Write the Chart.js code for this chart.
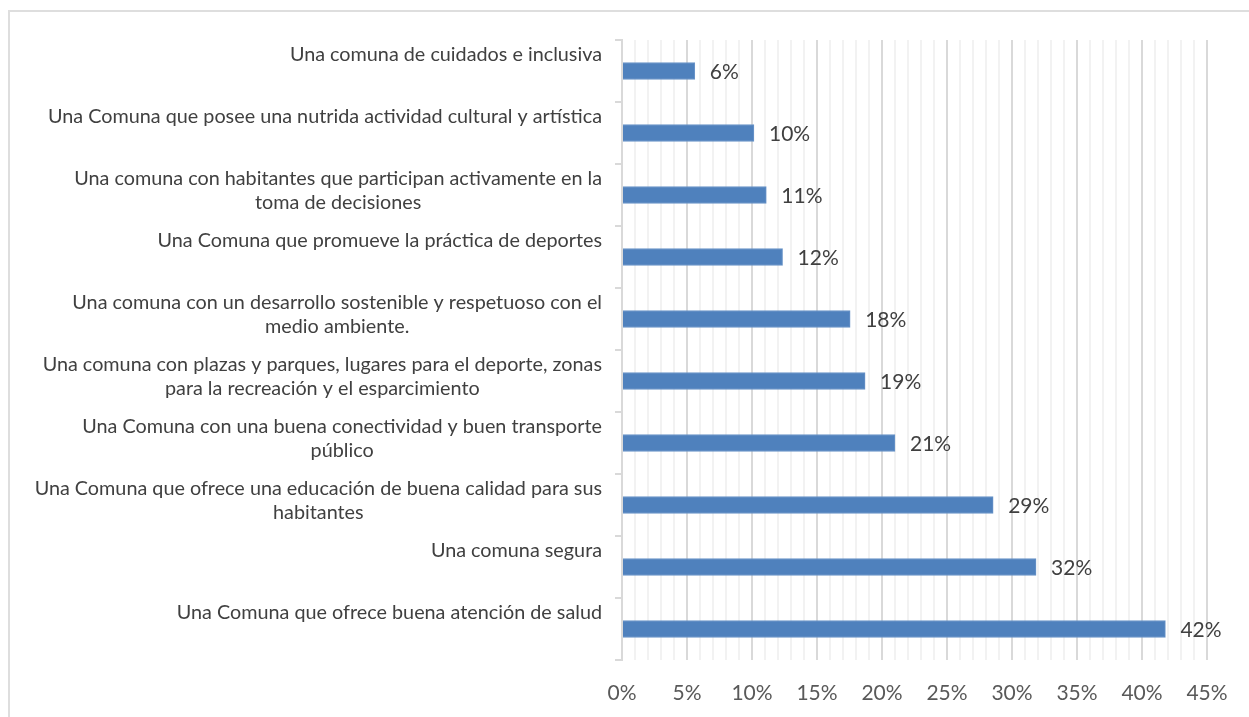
<!DOCTYPE html>
<html>
<head>
<meta charset="utf-8">
<script src="https://cdn.jsdelivr.net/npm/chart.js@4"></script>
<style>
  html, body { margin: 0; padding: 0; background: #fff; overflow: hidden; }
  #frame { position: absolute; left: 8px; top: 10px; width: 1260px; height: 720px; border: 2px solid #dedede; }
  #myChart { position: absolute; left: 0; top: 0; }
</style>
</head>
<body>
<div id="frame"></div>
<canvas id="myChart" width="1249" height="717"></canvas>
<script>
/* DATA */
const categories = [
    'Una comuna de cuidados e inclusiva',
    'Una Comuna que posee una nutrida actividad cultural y artística',
    ['Una comuna con habitantes que participan activamente en la', 'toma de decisiones'],
    'Una Comuna que promueve la práctica de deportes',
    ['Una comuna con un desarrollo sostenible y respetuoso con el', 'medio ambiente.'],
    ['Una comuna con plazas y parques, lugares para el deporte, zonas', 'para la recreación y el esparcimiento'],
    ['Una Comuna con una buena conectividad y buen transporte', 'público'],
    ['Una Comuna que ofrece una educación de buena calidad para sus ', 'habitantes'],
    'Una comuna segura',
    'Una Comuna que ofrece buena atención de salud',
];
const values = [5.6, 10.15, 11.1, 12.35, 17.55, 18.7, 21.0, 28.55, 31.85, 41.8];
const xTicks = [0, 5, 10, 15, 20, 25, 30, 35, 40, 45];

const FONT = 'Lato, "Open Sans", sans-serif';

/* category labels, centred per line like the original */
const categoryLabels = {
    id: 'categoryLabels',
    afterDraw(chart) {
        const ctx = chart.ctx;
        const yScale = chart.scales.y;
        ctx.save();
        ctx.font = '19.8px ' + FONT;
        ctx.fillStyle = '#404040';
        ctx.textAlign = 'center';
        ctx.textBaseline = 'middle';
        categories.forEach((lab, i) => {
            const lines = Array.isArray(lab) ? lab : [lab];
            const w = Math.max(...lines.map(l => ctx.measureText(l.trim()).width));
            const cx = 602 - w / 2;
            const y = yScale.getPixelForValue(i);
            lines.forEach((l, k) => ctx.fillText(l.trim(), cx, y - 16 + k * 24));
        });
        ctx.restore();
    }
};

/* value labels at the end of each bar */
const valueLabels = {
    id: 'valueLabels',
    afterDatasetsDraw(chart) {
        const ctx = chart.ctx;
        const meta = chart.getDatasetMeta(0);
        ctx.save();
        ctx.font = '21px ' + FONT;
        ctx.fillStyle = '#404040';
        ctx.textAlign = 'left';
        ctx.textBaseline = 'middle';
        meta.data.forEach((bar, i) => {
            ctx.fillText(Math.round(values[i]) + '%', bar.x + 15, bar.y + 1);
        });
        ctx.restore();
    }
};

const data = {
    labels: categories,
    datasets: [{
        data: values,
        backgroundColor: '#4f81bd',
        borderColor: '#6b95c9',
        borderWidth: 1,
        borderSkipped: 'left',
        barThickness: 17
    }]
};

const config = {
    type: 'bar',
    data,
    options: {
        indexAxis: 'y',
        responsive: false,
        animation: false,
        layout: { padding: { left: 0, top: 40, right: 42, bottom: 0 } },
        plugins: {
            legend: { display: false },
            tooltip: { enabled: false }
        },
        scales: {
            x: {
                min: 0,
                max: 45,
                afterFit: s => { s.height = 57; },
                ticks: {
                    stepSize: 1,
                    autoSkip: false,
                    maxRotation: 0,
                    padding: 21,
                    color: '#595959',
                    font: { family: FONT, size: 21 },
                    callback: v => xTicks.includes(v) ? v + '%' : ''
                },
                grid: {
                    drawTicks: false,
                    lineWidth: 2,
                    color: c => (c.tick && c.tick.value % 5 === 0) ? '#d9d9d9' : '#f2f2f2'
                },
                border: { display: false }
            },
            y: {
                afterFit: s => { s.width = 622; },
                ticks: { display: false },
                grid: {
                    offset: true,
                    drawOnChartArea: false,
                    drawTicks: true,
                    tickLength: 7,
                    lineWidth: 2,
                    color: '#d9d9d9'
                },
                border: { display: true, color: '#d9d9d9', width: 2 }
            }
        }
    },
    plugins: [categoryLabels, valueLabels]
};

let myChart = new Chart(document.getElementById('myChart'), config);
</script>
</body>
</html>
